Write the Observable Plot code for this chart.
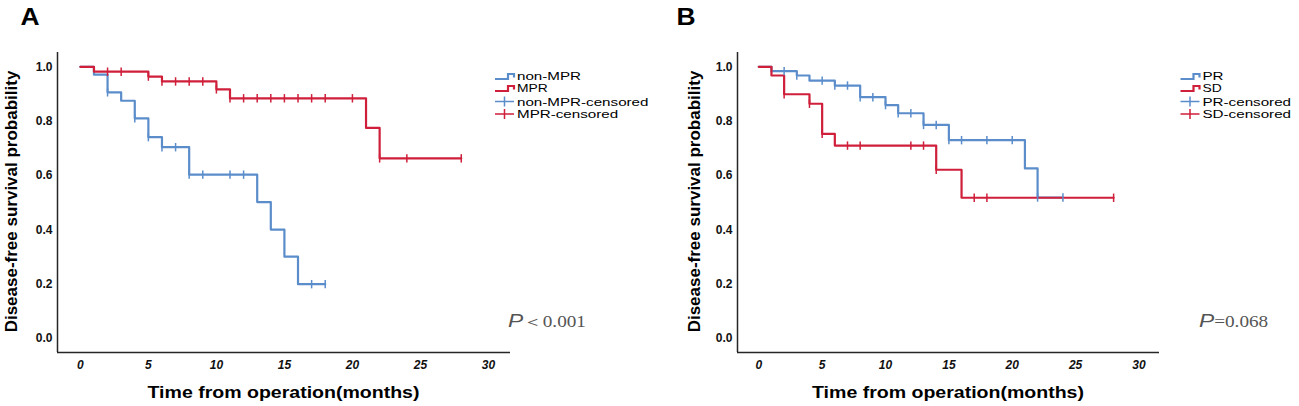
<!DOCTYPE html>
<html>
<head>
<meta charset="utf-8">
<script src="https://cdn.jsdelivr.net/npm/d3@7"></script>
<script src="https://cdn.jsdelivr.net/npm/@observablehq/plot@0.6"></script>
<style>
  html, body { margin: 0; padding: 0; background: #fff; }
  #wrap { position: relative; width: 1299px; height: 406px; overflow: hidden; background: #fff; }
  #wrap svg { position: absolute; top: 0; overflow: visible; }
</style>
</head>
<body>
<div id="wrap"></div>
<script>
// ---------- data ----------
const xTicks = [0, 5, 10, 15, 20, 25, 30];
const yTicks = [0, 0.2, 0.4, 0.6, 0.8, 1.0];

// Panel A
const nonMPRTimes = [0, 1, 2, 3, 4, 5, 6, 8, 13, 14, 15, 16, 18];
const nonMPRSurv  = [1, 0.971, 0.906, 0.875, 0.81, 0.741, 0.704, 0.603, 0.502, 0.401, 0.301, 0.2, 0.2];
const nonMPRCens  = [2, 4, 5, 6, 7, 8, 9, 11, 12, 17, 18];

const MPRTimes = [0, 1, 5, 6, 10, 11, 21, 22, 28];
const MPRSurv  = [1, 0.982, 0.964, 0.946, 0.917, 0.884, 0.775, 0.663, 0.663];
const MPRCens  = [2, 3, 5, 6, 7, 8, 9, 10, 11, 12, 13, 14, 15, 16, 17, 18, 20, 22, 24, 28];

// Panel B
const PRTimes = [0, 1, 3, 4, 6, 8, 10, 11, 13, 15, 21, 22, 24];
const PRSurv  = [1, 0.984, 0.968, 0.949, 0.931, 0.888, 0.859, 0.829, 0.786, 0.730, 0.626, 0.519, 0.519];
const PRCens  = [2, 3, 5, 6, 7, 8, 9, 10, 11, 12, 13, 14, 15, 16, 18, 20, 22, 24];

const SDTimes = [0, 1, 2, 4, 5, 6, 14, 16, 28];
const SDSurv  = [1, 0.968, 0.899, 0.864, 0.753, 0.71, 0.621, 0.518, 0.518];
const SDCens  = [2, 4, 5, 7, 8, 12, 13, 14, 17, 18, 28];

const legendA = ["non-MPR", "MPR", "non-MPR-censored", "MPR-censored"];
const legendB = ["PR", "SD", "PR-censored", "SD-censored"];
const pTextA = ["P", "＜0.001"];
const pTextB = ["P", "=0.068"];
const yTitle = "Disease-free survival probability";
const xTitle = "Time from operation(months)";

// ---------- styling ----------
const BLUE = "#5b8dcb";
const RED = "#cf1f3a";
const AXIS = "#262626";
const FONT = "'Liberation Sans', Arial, Helvetica, sans-serif";
const xDomain = [-1.68, 31.62];
const yDomain = [-0.0515, 1.0526];

function steps(times, surv) {
  return times.map((t, i) => ({t, s: surv[i]}));
}
function censored(times, surv, cens) {
  return cens.map(c => {
    let s = surv[0];
    for (let i = 0; i < times.length; i++) if (times[i] <= c) s = surv[i];
    return {t: c, s};
  });
}
const vtick = {
  draw(ctx, size) {
    const r = Math.sqrt(size / Math.PI);
    ctx.moveTo(0, -r);
    ctx.lineTo(0, r);
  }
};

function panel(opts) {
  const {width, marginLeft, series, legend, pText, letter, L} = opts;
  const marks = [
    Plot.ruleX([xDomain[0]], {stroke: AXIS, strokeWidth: 1.5}),
    Plot.ruleY([yDomain[0]], {stroke: AXIS, strokeWidth: 1.5}),
    Plot.axisY({ticks: yTicks, tickFormat: d3.format(".1f"), tickSize: 0, tickPadding: 5,
                fontWeight: "bold", fontSize: 12, fill: "#111", label: null}),
    Plot.axisX({ticks: xTicks, tickSize: 0, tickPadding: 8, fontWeight: "bold",
                fontStyle: "italic", fontSize: 12, fill: "#111", label: null})
  ];
  for (const s of series) {
    marks.push(Plot.line(steps(s.times, s.surv), {x: "t", y: "s", curve: "step-after",
      stroke: s.color, strokeWidth: 2.2}));
  }
  for (const s of series) {
    marks.push(Plot.dot(censored(s.times, s.surv, s.cens), {x: "t", y: "s", symbol: vtick,
      r: 4.2, stroke: s.color, strokeWidth: 1.5, fill: "none"}));
  }
  const svg = Plot.plot({
    width, height: 406,
    marginLeft, marginRight: 140, marginTop: 52, marginBottom: 54,
    x: {domain: xDomain},
    y: {domain: yDomain},
    style: {fontFamily: FONT, background: "transparent", overflow: "visible"},
    marks
  });
  const g = d3.select(svg);

  // panel letter
  g.append("g").attr("transform", `translate(${L.letterX},25) scale(1.1,1)`)
    .append("text").attr("text-anchor", "start").attr("font-family", FONT).attr("font-weight", "bold")
    .attr("font-size", 24).attr("fill", "#000").text(letter);

  // y title
  g.append("text").attr("transform", `translate(${L.yTitleX},201.5) rotate(-90)`)
    .attr("text-anchor", "middle").attr("font-family", FONT).attr("font-weight", "bold")
    .attr("font-size", 17).attr("fill", "#000").text(yTitle);

  // x title
  const xc = (marginLeft + (width - 140)) / 2;
  g.append("g").attr("transform", `translate(${xc},398) scale(1.15,1)`)
    .append("text").attr("text-anchor", "middle").attr("font-family", FONT)
    .attr("font-weight", "bold").attr("font-size", 17).attr("fill", "#000").text(xTitle);

  // legend
  const rows = [76, 88, 101.5, 114];
  const sizes = [11.5, 10.5, 11.5, 11.5];
  legend.forEach((label, i) => {
    const color = series[i % 2].color;
    const y = rows[i];
    const x0 = L.legendX;
    if (i < 2) {
      g.append("path").attr("d", `M${x0},${y + 3}H${x0 + 13}V${y - 2}H${x0 + 19}V${y + 1.5}`)
        .attr("fill", "none").attr("stroke", color).attr("stroke-width", 2.2);
    } else {
      g.append("path").attr("d", `M${x0},${y}H${x0 + 19}M${x0 + 9.5},${y - 5}V${y + 5}`)
        .attr("fill", "none").attr("stroke", color).attr("stroke-width", 1.5);
    }
    g.append("g").attr("transform", `translate(${x0 + 22},${y}) scale(1.32,1)`)
      .append("text").attr("text-anchor", "start").attr("dy", "0.36em").attr("font-family", FONT)
      .attr("font-size", sizes[i]).attr("fill", "#000").text(label);
  });

  // P value
  const pt = g.append("g").attr("transform", `translate(${L.pX},327) scale(1.2,1)`)
    .append("text").attr("text-anchor", "start").attr("fill", "#555");
  pt.append("tspan").attr("font-family", FONT).attr("font-style", "italic")
    .attr("font-size", 19).text(pText[0]);
  pt.append("tspan").attr("font-family", "'Liberation Serif', 'DejaVu Serif', serif")
    .attr("font-size", 16).text(pText[1]);

  return svg;
}

const wrap = document.getElementById("wrap");
const svgA = panel({
  width: 650, marginLeft: 57, letter: "A", legend: legendA, pText: pTextA,
  series: [
    {times: nonMPRTimes, surv: nonMPRSurv, cens: nonMPRCens, color: BLUE},
    {times: MPRTimes, surv: MPRSurv, cens: MPRCens, color: RED}
  ],
  L: {letterX: 20.5, yTitleX: 16.5, legendX: 495, pX: 508}
});
svgA.style.left = "0px";
wrap.appendChild(svgA);

const svgB = panel({
  width: 649, marginLeft: 87, letter: "B", legend: legendB, pText: pTextB,
  series: [
    {times: PRTimes, surv: PRSurv, cens: PRCens, color: BLUE},
    {times: SDTimes, surv: SDSurv, cens: SDCens, color: RED}
  ],
  L: {letterX: 26.5, yTitleX: 49.5, legendX: 530.5, pX: 549}
});
svgB.style.left = "650px";
wrap.appendChild(svgB);
</script>
</body>
</html>
